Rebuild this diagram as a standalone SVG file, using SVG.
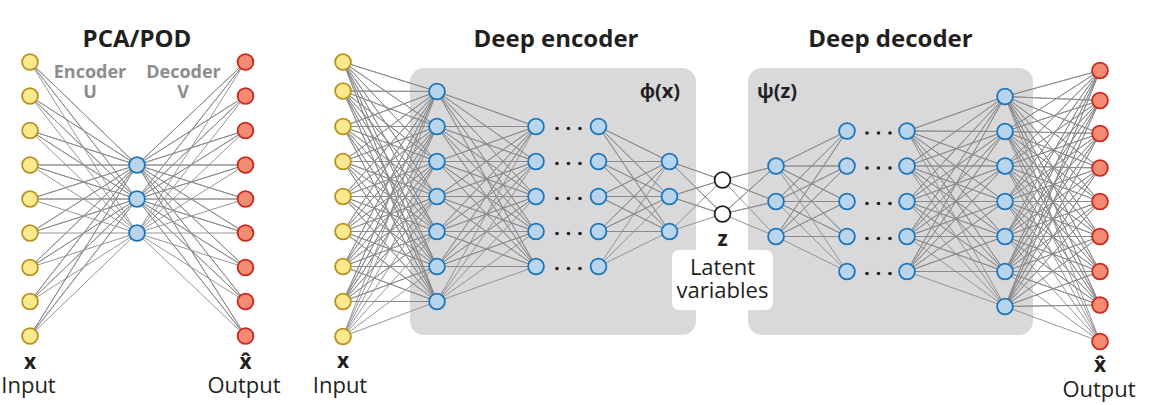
<svg xmlns="http://www.w3.org/2000/svg" width="1149" height="405" viewBox="0 0 1149 405">
<style>
.bg{fill:#d9d9db}
.ln{fill:none;stroke:#8a8a8a;stroke-width:0.9;stroke-linejoin:round}
.yl{fill:#fbe98e;stroke:#b8911e;stroke-width:1.8}
.bl{fill:#b9d5ee;stroke:#1b75bb;stroke-width:1.8}
.rd{fill:#f58b72;stroke:#c9281f;stroke-width:1.8}
.lt{fill:#ffffff;stroke:#231f20;stroke-width:1.8}
.dot{fill:#231f20}
text{font-family:"Open Sans","Liberation Sans",sans-serif;fill:#231f20}
.ttl{font-size:24px;font-weight:700;text-anchor:middle}
.sub{font-size:18px;font-weight:700;fill:#8d8d8d;text-anchor:middle}
.lab{font-size:22px;text-anchor:middle}
.bx{font-size:21px;font-weight:700;text-anchor:middle}
.fn{font-size:20px;font-weight:700}
</style>
<defs>
<circle id="n" r="7.9"/>
</defs>
<g id="encoder-box"><rect class="bg" x="410" y="68" width="286" height="267" rx="14"/></g>
<g id="decoder-box"><rect class="bg" x="748" y="68" width="285" height="267" rx="14"/></g>
<g id="latent-label-box"><rect x="672" y="250" width="101" height="60" rx="7" fill="#ffffff"/></g>
<g id="connectors">
<path class="ln" d="M30 62L137 165 30 62 137 199 30 62 137 233M30 96L137 165 30 96 137 199 30 96 137 233M30 130.5L137 165 30 130.5 137 199 30 130.5 137 233M30 165L137 165 30 165 137 199 30 165 137 233M30 199L137 165 30 199 137 199 30 199 137 233M30 233L137 165 30 233 137 199 30 233 137 233M30 267.5L137 165 30 267.5 137 199 30 267.5 137 233M30 301.5L137 165 30 301.5 137 199 30 301.5 137 233M30 336L137 165 30 336 137 199 30 336 137 233"/>
<path class="ln" d="M245.5 62L137 165 245.5 62 137 199 245.5 62 137 233M245.5 96L137 165 245.5 96 137 199 245.5 96 137 233M245.5 130.5L137 165 245.5 130.5 137 199 245.5 130.5 137 233M245.5 165L137 165 245.5 165 137 199 245.5 165 137 233M245.5 199L137 165 245.5 199 137 199 245.5 199 137 233M245.5 233L137 165 245.5 233 137 199 245.5 233 137 233M245.5 267.5L137 165 245.5 267.5 137 199 245.5 267.5 137 233M245.5 301.5L137 165 245.5 301.5 137 199 245.5 301.5 137 233M245.5 336L137 165 245.5 336 137 199 245.5 336 137 233"/>
<path class="ln" d="M437 91.5L343 62 437 91.5 343 91 437 91.5 343 126.5 437 91.5 343 161.5 437 91.5 343 196.5 437 91.5 343 231.5 437 91.5 343 266.5 437 91.5 343 301.5 437 91.5 343 336.5M437 126.5L343 62 437 126.5 343 91 437 126.5 343 126.5 437 126.5 343 161.5 437 126.5 343 196.5 437 126.5 343 231.5 437 126.5 343 266.5 437 126.5 343 301.5 437 126.5 343 336.5M437 161.5L343 62 437 161.5 343 91 437 161.5 343 126.5 437 161.5 343 161.5 437 161.5 343 196.5 437 161.5 343 231.5 437 161.5 343 266.5 437 161.5 343 301.5 437 161.5 343 336.5M437 196.5L343 62 437 196.5 343 91 437 196.5 343 126.5 437 196.5 343 161.5 437 196.5 343 196.5 437 196.5 343 231.5 437 196.5 343 266.5 437 196.5 343 301.5 437 196.5 343 336.5M437 231.5L343 62 437 231.5 343 91 437 231.5 343 126.5 437 231.5 343 161.5 437 231.5 343 196.5 437 231.5 343 231.5 437 231.5 343 266.5 437 231.5 343 301.5 437 231.5 343 336.5M437 266.5L343 62 437 266.5 343 91 437 266.5 343 126.5 437 266.5 343 161.5 437 266.5 343 196.5 437 266.5 343 231.5 437 266.5 343 266.5 437 266.5 343 301.5 437 266.5 343 336.5M437 301.5L343 62 437 301.5 343 91 437 301.5 343 126.5 437 301.5 343 161.5 437 301.5 343 196.5 437 301.5 343 231.5 437 301.5 343 266.5 437 301.5 343 301.5 437 301.5 343 336.5"/>
<path class="ln" d="M536 126.5L437 91.5 536 126.5 437 126.5 536 126.5 437 161.5 536 126.5 437 196.5 536 126.5 437 231.5 536 126.5 437 266.5 536 126.5 437 301.5M536 161.5L437 91.5 536 161.5 437 126.5 536 161.5 437 161.5 536 161.5 437 196.5 536 161.5 437 231.5 536 161.5 437 266.5 536 161.5 437 301.5M536 196.5L437 91.5 536 196.5 437 126.5 536 196.5 437 161.5 536 196.5 437 196.5 536 196.5 437 231.5 536 196.5 437 266.5 536 196.5 437 301.5M536 231.5L437 91.5 536 231.5 437 126.5 536 231.5 437 161.5 536 231.5 437 196.5 536 231.5 437 231.5 536 231.5 437 266.5 536 231.5 437 301.5M536 266.5L437 91.5 536 266.5 437 126.5 536 266.5 437 161.5 536 266.5 437 196.5 536 266.5 437 231.5 536 266.5 437 266.5 536 266.5 437 301.5"/>
<path class="ln" d="M669.5 161.5L598.5 126.5 669.5 161.5 598.5 161.5 669.5 161.5 598.5 196.5 669.5 161.5 598.5 231.5 669.5 161.5 598.5 266.5M669.5 196.5L598.5 126.5 669.5 196.5 598.5 161.5 669.5 196.5 598.5 196.5 669.5 196.5 598.5 231.5 669.5 196.5 598.5 266.5M669.5 231.5L598.5 126.5 669.5 231.5 598.5 161.5 669.5 231.5 598.5 196.5 669.5 231.5 598.5 231.5 669.5 231.5 598.5 266.5"/>
<path class="ln" d="M722.5 180L669.5 161.5 722.5 180 669.5 196.5 722.5 180 669.5 231.5M722.5 214L669.5 161.5 722.5 214 669.5 196.5 722.5 214 669.5 231.5"/>
<path class="ln" d="M722.5 180L776 166 722.5 180 776 201.5 722.5 180 776 236.5M722.5 214L776 166 722.5 214 776 201.5 722.5 214 776 236.5"/>
<path class="ln" d="M776 166L847 131 776 166 847 166 776 166 847 201.5 776 166 847 236.5 776 166 847 271.5M776 201.5L847 131 776 201.5 847 166 776 201.5 847 201.5 776 201.5 847 236.5 776 201.5 847 271.5M776 236.5L847 131 776 236.5 847 166 776 236.5 847 201.5 776 236.5 847 236.5 776 236.5 847 271.5"/>
<path class="ln" d="M907 131L1005 96.5 907 131 1005 131.5 907 131 1005 166 907 131 1005 201.5 907 131 1005 236.5 907 131 1005 271.5 907 131 1005 306.5M907 166L1005 96.5 907 166 1005 131.5 907 166 1005 166 907 166 1005 201.5 907 166 1005 236.5 907 166 1005 271.5 907 166 1005 306.5M907 201.5L1005 96.5 907 201.5 1005 131.5 907 201.5 1005 166 907 201.5 1005 201.5 907 201.5 1005 236.5 907 201.5 1005 271.5 907 201.5 1005 306.5M907 236.5L1005 96.5 907 236.5 1005 131.5 907 236.5 1005 166 907 236.5 1005 201.5 907 236.5 1005 236.5 907 236.5 1005 271.5 907 236.5 1005 306.5M907 271.5L1005 96.5 907 271.5 1005 131.5 907 271.5 1005 166 907 271.5 1005 201.5 907 271.5 1005 236.5 907 271.5 1005 271.5 907 271.5 1005 306.5"/>
<path class="ln" d="M1005 96.5L1100 70.5 1005 96.5 1100 100.5 1005 96.5 1100 133.5 1005 96.5 1100 168 1005 96.5 1100 201.5 1005 96.5 1100 236.5 1005 96.5 1100 271.5 1005 96.5 1100 305 1005 96.5 1100 341.5M1005 131.5L1100 70.5 1005 131.5 1100 100.5 1005 131.5 1100 133.5 1005 131.5 1100 168 1005 131.5 1100 201.5 1005 131.5 1100 236.5 1005 131.5 1100 271.5 1005 131.5 1100 305 1005 131.5 1100 341.5M1005 166L1100 70.5 1005 166 1100 100.5 1005 166 1100 133.5 1005 166 1100 168 1005 166 1100 201.5 1005 166 1100 236.5 1005 166 1100 271.5 1005 166 1100 305 1005 166 1100 341.5M1005 201.5L1100 70.5 1005 201.5 1100 100.5 1005 201.5 1100 133.5 1005 201.5 1100 168 1005 201.5 1100 201.5 1005 201.5 1100 236.5 1005 201.5 1100 271.5 1005 201.5 1100 305 1005 201.5 1100 341.5M1005 236.5L1100 70.5 1005 236.5 1100 100.5 1005 236.5 1100 133.5 1005 236.5 1100 168 1005 236.5 1100 201.5 1005 236.5 1100 236.5 1005 236.5 1100 271.5 1005 236.5 1100 305 1005 236.5 1100 341.5M1005 271.5L1100 70.5 1005 271.5 1100 100.5 1005 271.5 1100 133.5 1005 271.5 1100 168 1005 271.5 1100 201.5 1005 271.5 1100 236.5 1005 271.5 1100 271.5 1005 271.5 1100 305 1005 271.5 1100 341.5M1005 306.5L1100 70.5 1005 306.5 1100 100.5 1005 306.5 1100 133.5 1005 306.5 1100 168 1005 306.5 1100 201.5 1005 306.5 1100 236.5 1005 306.5 1100 271.5 1005 306.5 1100 305 1005 306.5 1100 341.5"/>
</g>
<g id="pca-input">
<g id="pca-in-1"><use href="#n" class="yl" x="30" y="62"/></g>
<g id="pca-in-2"><use href="#n" class="yl" x="30" y="96"/></g>
<g id="pca-in-3"><use href="#n" class="yl" x="30" y="130.5"/></g>
<g id="pca-in-4"><use href="#n" class="yl" x="30" y="165"/></g>
<g id="pca-in-5"><use href="#n" class="yl" x="30" y="199"/></g>
<g id="pca-in-6"><use href="#n" class="yl" x="30" y="233"/></g>
<g id="pca-in-7"><use href="#n" class="yl" x="30" y="267.5"/></g>
<g id="pca-in-8"><use href="#n" class="yl" x="30" y="301.5"/></g>
<g id="pca-in-9"><use href="#n" class="yl" x="30" y="336"/></g>
</g>
<g id="pca-latent">
<g id="pca-mid-1"><use href="#n" class="bl" x="137" y="165"/></g>
<g id="pca-mid-2"><use href="#n" class="bl" x="137" y="199"/></g>
<g id="pca-mid-3"><use href="#n" class="bl" x="137" y="233"/></g>
</g>
<g id="pca-output">
<g id="pca-out-1"><use href="#n" class="rd" x="245.5" y="62"/></g>
<g id="pca-out-2"><use href="#n" class="rd" x="245.5" y="96"/></g>
<g id="pca-out-3"><use href="#n" class="rd" x="245.5" y="130.5"/></g>
<g id="pca-out-4"><use href="#n" class="rd" x="245.5" y="165"/></g>
<g id="pca-out-5"><use href="#n" class="rd" x="245.5" y="199"/></g>
<g id="pca-out-6"><use href="#n" class="rd" x="245.5" y="233"/></g>
<g id="pca-out-7"><use href="#n" class="rd" x="245.5" y="267.5"/></g>
<g id="pca-out-8"><use href="#n" class="rd" x="245.5" y="301.5"/></g>
<g id="pca-out-9"><use href="#n" class="rd" x="245.5" y="336"/></g>
</g>
<g id="ae-input">
<g id="ae-in-1"><use href="#n" class="yl" x="343" y="62"/></g>
<g id="ae-in-2"><use href="#n" class="yl" x="343" y="91"/></g>
<g id="ae-in-3"><use href="#n" class="yl" x="343" y="126.5"/></g>
<g id="ae-in-4"><use href="#n" class="yl" x="343" y="161.5"/></g>
<g id="ae-in-5"><use href="#n" class="yl" x="343" y="196.5"/></g>
<g id="ae-in-6"><use href="#n" class="yl" x="343" y="231.5"/></g>
<g id="ae-in-7"><use href="#n" class="yl" x="343" y="266.5"/></g>
<g id="ae-in-8"><use href="#n" class="yl" x="343" y="301.5"/></g>
<g id="ae-in-9"><use href="#n" class="yl" x="343" y="336.5"/></g>
</g>
<g id="enc-layer-1">
<g id="enc1-1"><use href="#n" class="bl" x="437" y="91.5"/></g>
<g id="enc1-2"><use href="#n" class="bl" x="437" y="126.5"/></g>
<g id="enc1-3"><use href="#n" class="bl" x="437" y="161.5"/></g>
<g id="enc1-4"><use href="#n" class="bl" x="437" y="196.5"/></g>
<g id="enc1-5"><use href="#n" class="bl" x="437" y="231.5"/></g>
<g id="enc1-6"><use href="#n" class="bl" x="437" y="266.5"/></g>
<g id="enc1-7"><use href="#n" class="bl" x="437" y="301.5"/></g>
</g>
<g id="enc-layer-2">
<g id="enc2-1"><use href="#n" class="bl" x="536" y="126.5"/></g>
<g id="enc2-2"><use href="#n" class="bl" x="536" y="161.5"/></g>
<g id="enc2-3"><use href="#n" class="bl" x="536" y="196.5"/></g>
<g id="enc2-4"><use href="#n" class="bl" x="536" y="231.5"/></g>
<g id="enc2-5"><use href="#n" class="bl" x="536" y="266.5"/></g>
</g>
<g id="enc-dots">
<circle class="dot" cx="557" cy="128.5" r="1.8"/><circle class="dot" cx="568.5" cy="128.5" r="1.8"/><circle class="dot" cx="580" cy="128.5" r="1.8"/>
<circle class="dot" cx="557" cy="163.5" r="1.8"/><circle class="dot" cx="568.5" cy="163.5" r="1.8"/><circle class="dot" cx="580" cy="163.5" r="1.8"/>
<circle class="dot" cx="557" cy="198.5" r="1.8"/><circle class="dot" cx="568.5" cy="198.5" r="1.8"/><circle class="dot" cx="580" cy="198.5" r="1.8"/>
<circle class="dot" cx="557" cy="233.5" r="1.8"/><circle class="dot" cx="568.5" cy="233.5" r="1.8"/><circle class="dot" cx="580" cy="233.5" r="1.8"/>
<circle class="dot" cx="557" cy="268.5" r="1.8"/><circle class="dot" cx="568.5" cy="268.5" r="1.8"/><circle class="dot" cx="580" cy="268.5" r="1.8"/>
</g>
<g id="enc-layer-3">
<g id="enc3-1"><use href="#n" class="bl" x="598.5" y="126.5"/></g>
<g id="enc3-2"><use href="#n" class="bl" x="598.5" y="161.5"/></g>
<g id="enc3-3"><use href="#n" class="bl" x="598.5" y="196.5"/></g>
<g id="enc3-4"><use href="#n" class="bl" x="598.5" y="231.5"/></g>
<g id="enc3-5"><use href="#n" class="bl" x="598.5" y="266.5"/></g>
</g>
<g id="enc-layer-4">
<g id="enc4-1"><use href="#n" class="bl" x="669.5" y="161.5"/></g>
<g id="enc4-2"><use href="#n" class="bl" x="669.5" y="196.5"/></g>
<g id="enc4-3"><use href="#n" class="bl" x="669.5" y="231.5"/></g>
</g>
<g id="latent-z">
<g id="z-1"><use href="#n" class="lt" x="722.5" y="180"/></g>
<g id="z-2"><use href="#n" class="lt" x="722.5" y="214"/></g>
</g>
<g id="dec-layer-1">
<g id="dec1-1"><use href="#n" class="bl" x="776" y="166"/></g>
<g id="dec1-2"><use href="#n" class="bl" x="776" y="201.5"/></g>
<g id="dec1-3"><use href="#n" class="bl" x="776" y="236.5"/></g>
</g>
<g id="dec-layer-2">
<g id="dec2-1"><use href="#n" class="bl" x="847" y="131"/></g>
<g id="dec2-2"><use href="#n" class="bl" x="847" y="166"/></g>
<g id="dec2-3"><use href="#n" class="bl" x="847" y="201.5"/></g>
<g id="dec2-4"><use href="#n" class="bl" x="847" y="236.5"/></g>
<g id="dec2-5"><use href="#n" class="bl" x="847" y="271.5"/></g>
</g>
<g id="dec-dots">
<circle class="dot" cx="867" cy="133" r="1.8"/><circle class="dot" cx="878.5" cy="133" r="1.8"/><circle class="dot" cx="890" cy="133" r="1.8"/>
<circle class="dot" cx="867" cy="168" r="1.8"/><circle class="dot" cx="878.5" cy="168" r="1.8"/><circle class="dot" cx="890" cy="168" r="1.8"/>
<circle class="dot" cx="867" cy="203.5" r="1.8"/><circle class="dot" cx="878.5" cy="203.5" r="1.8"/><circle class="dot" cx="890" cy="203.5" r="1.8"/>
<circle class="dot" cx="867" cy="238.5" r="1.8"/><circle class="dot" cx="878.5" cy="238.5" r="1.8"/><circle class="dot" cx="890" cy="238.5" r="1.8"/>
<circle class="dot" cx="867" cy="273.5" r="1.8"/><circle class="dot" cx="878.5" cy="273.5" r="1.8"/><circle class="dot" cx="890" cy="273.5" r="1.8"/>
</g>
<g id="dec-layer-3">
<g id="dec3-1"><use href="#n" class="bl" x="907" y="131"/></g>
<g id="dec3-2"><use href="#n" class="bl" x="907" y="166"/></g>
<g id="dec3-3"><use href="#n" class="bl" x="907" y="201.5"/></g>
<g id="dec3-4"><use href="#n" class="bl" x="907" y="236.5"/></g>
<g id="dec3-5"><use href="#n" class="bl" x="907" y="271.5"/></g>
</g>
<g id="dec-layer-4">
<g id="dec4-1"><use href="#n" class="bl" x="1005" y="96.5"/></g>
<g id="dec4-2"><use href="#n" class="bl" x="1005" y="131.5"/></g>
<g id="dec4-3"><use href="#n" class="bl" x="1005" y="166"/></g>
<g id="dec4-4"><use href="#n" class="bl" x="1005" y="201.5"/></g>
<g id="dec4-5"><use href="#n" class="bl" x="1005" y="236.5"/></g>
<g id="dec4-6"><use href="#n" class="bl" x="1005" y="271.5"/></g>
<g id="dec4-7"><use href="#n" class="bl" x="1005" y="306.5"/></g>
</g>
<g id="ae-output">
<g id="ae-out-1"><use href="#n" class="rd" x="1100" y="70.5"/></g>
<g id="ae-out-2"><use href="#n" class="rd" x="1100" y="100.5"/></g>
<g id="ae-out-3"><use href="#n" class="rd" x="1100" y="133.5"/></g>
<g id="ae-out-4"><use href="#n" class="rd" x="1100" y="168"/></g>
<g id="ae-out-5"><use href="#n" class="rd" x="1100" y="201.5"/></g>
<g id="ae-out-6"><use href="#n" class="rd" x="1100" y="236.5"/></g>
<g id="ae-out-7"><use href="#n" class="rd" x="1100" y="271.5"/></g>
<g id="ae-out-8"><use href="#n" class="rd" x="1100" y="305"/></g>
<g id="ae-out-9"><use href="#n" class="rd" x="1100" y="341.5"/></g>
</g>
<g id="labels">
<text class="ttl" x="137" y="47">PCA/POD</text>
<text class="sub" x="90" y="78">Encoder</text>
<text class="sub" x="90" y="98">U</text>
<text class="sub" x="183.5" y="78">Decoder</text>
<text class="sub" x="183" y="98">V</text>
<text class="bx" x="30" y="369">x</text>
<text class="lab" x="28.5" y="393">Input</text>
<text class="bx" x="245.5" y="369">x̂</text>
<text class="lab" x="244" y="393">Output</text>
<text class="ttl" x="556" y="47">Deep encoder</text>
<text class="ttl" x="890.5" y="47">Deep decoder</text>
<text class="fn" x="640" y="98">ϕ(x)</text>
<text class="fn" x="757" y="98">ψ(z)</text>
<text class="bx" x="722.5" y="246">z</text>
<text class="lab" x="722.5" y="275">Latent</text>
<text class="lab" x="722.5" y="298">variables</text>
<text class="bx" x="343" y="368">x</text>
<text class="lab" x="340" y="393">Input</text>
<text class="bx" x="1100" y="372">x̂</text>
<text class="lab" x="1099" y="397">Output</text>
</g>
</svg>
